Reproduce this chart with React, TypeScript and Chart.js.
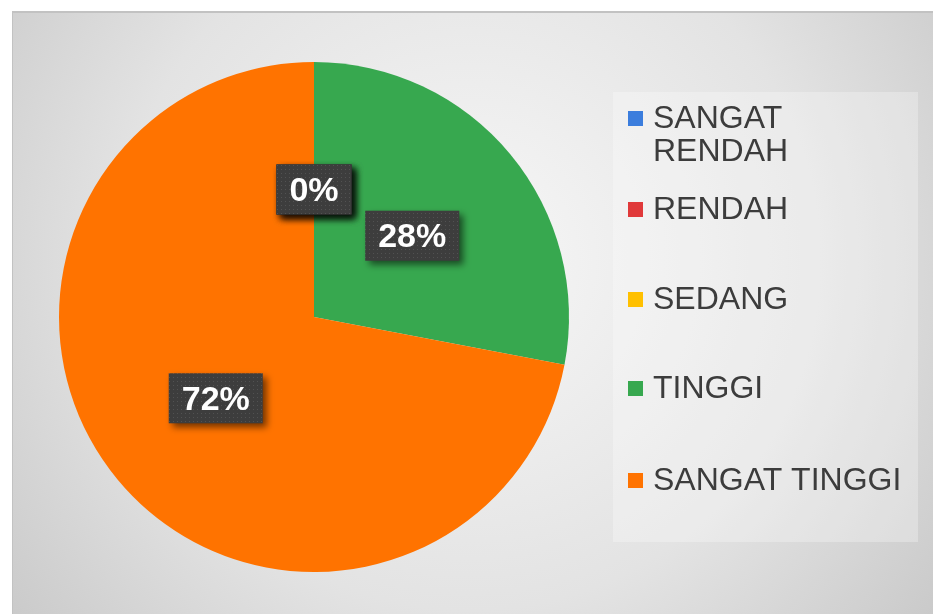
import React, { useEffect, useRef } from "react";
import { Chart, registerables } from "chart.js";

Chart.register(...registerables);

const categories = ["SANGAT RENDAH", "RENDAH", "SEDANG", "TINGGI", "SANGAT TINGGI"];
const legendLines = [["SANGAT", "RENDAH"], ["RENDAH"], ["SEDANG"], ["TINGGI"], ["SANGAT TINGGI"]];
const values = [0, 0, 0, 28, 72];
const colors = ["#3b7ddd", "#e0393a", "#ffc000", "#37a84f", "#ff7300"];

const W = 933;
const H = 614;

function makePattern(ctx: CanvasRenderingContext2D) {
  const c = document.createElement("canvas");
  c.width = 4;
  c.height = 4;
  const p = c.getContext("2d")!;
  p.fillStyle = "#3d3d3d";
  p.fillRect(0, 0, 4, 4);
  p.fillStyle = "#525252";
  p.fillRect(1, 1, 1, 1);
  return ctx.createPattern(c, "repeat") || "#3d3d3d";
}

const backgroundPlugin = {
  id: "bgPlugin",
  beforeDraw(chart: any) {
    const ctx = chart.ctx as CanvasRenderingContext2D;
    ctx.save();
    ctx.fillStyle = "#ffffff";
    ctx.fillRect(0, 0, W, H);
    const g = ctx.createRadialGradient(470, 260, 20, 470, 260, 620);
    g.addColorStop(0, "#f6f6f6");
    g.addColorStop(0.55, "#e3e3e3");
    g.addColorStop(1, "#c6c6c6");
    ctx.fillStyle = g;
    ctx.fillRect(12, 11, W - 12, H - 11);
    ctx.fillStyle = "#c2c2c2";
    ctx.fillRect(12, 11, W - 12, 2);
    ctx.fillRect(12, 11, 1, H - 11);
    // legend box
    ctx.fillStyle = "rgba(255,255,255,0.28)";
    ctx.fillRect(613, 92, 305, 450);
    ctx.restore();
  },
  afterDraw(chart: any) {
    const ctx = chart.ctx as CanvasRenderingContext2D;
    ctx.save();
    const rowY = [118, 209, 299, 388, 480];
    const lineH = 33;
    ctx.font = "32px 'Liberation Sans', Arial, sans-serif";
    ctx.textBaseline = "middle";
    ctx.textAlign = "left";
    categories.forEach((_, i) => {
      const y = rowY[i];
      ctx.fillStyle = colors[i];
      ctx.fillRect(628, y - 7, 15, 15);
      ctx.fillStyle = "#3c3c3c";
      legendLines[i].forEach((ln, j) => {
        ctx.fillText(ln, 653, y + 1 + j * lineH);
      });
    });
    ctx.restore();
  },
};

const labelPlugin = {
  id: "labelPlugin",
  afterDatasetsDraw(chart: any) {
    const ctx = chart.ctx as CanvasRenderingContext2D;
    const meta = chart.getDatasetMeta(0);
    const data = chart.data.datasets[0].data as number[];
    const total = data.reduce((a, b) => a + b, 0);
    const pattern = makePattern(ctx);
    ctx.save();
    ctx.font = "bold 34px 'Liberation Sans', Arial, sans-serif";
    ctx.textAlign = "center";
    ctx.textBaseline = "middle";
    meta.data.forEach((arc: any, i: number) => {
      const pct = Math.round((data[i] / total) * 100);
      const text = pct + "%";
      const p = arc.getCenterPoint();
      const tw = ctx.measureText(text).width;
      const bw = tw + 26;
      const bh = 50;
      ctx.save();
      ctx.shadowColor = "rgba(0,0,0,0.55)";
      ctx.shadowBlur = 7;
      ctx.shadowOffsetX = 4;
      ctx.shadowOffsetY = 4;
      ctx.fillStyle = pattern as any;
      ctx.fillRect(p.x - bw / 2, p.y - bh / 2, bw, bh);
      ctx.restore();
      ctx.fillStyle = "#ffffff";
      ctx.fillText(text, p.x, p.y + 2);
    });
    ctx.restore();
  },
};

export default function App() {
  const ref = useRef<HTMLCanvasElement | null>(null);
  useEffect(() => {
    if (!ref.current) return;
    const chart = new Chart(ref.current, {
      type: "pie",
      data: {
        labels: categories,
        datasets: [
          {
            data: values,
            backgroundColor: colors,
            borderWidth: 0,
          },
        ],
      },
      options: {
        responsive: false,
        animation: false,
        layout: { padding: { left: 58, top: 62, right: 363, bottom: 42 } },
        plugins: {
          legend: { display: false },
          tooltip: { enabled: false },
        },
      },
      plugins: [backgroundPlugin, labelPlugin],
    });
    return () => chart.destroy();
  }, []);
  return (
    <div style={{ position: "absolute", left: 0, top: 0, width: W, height: H }}>
      <canvas ref={ref} width={W} height={H} style={{ display: "block" }} />
    </div>
  );
}
